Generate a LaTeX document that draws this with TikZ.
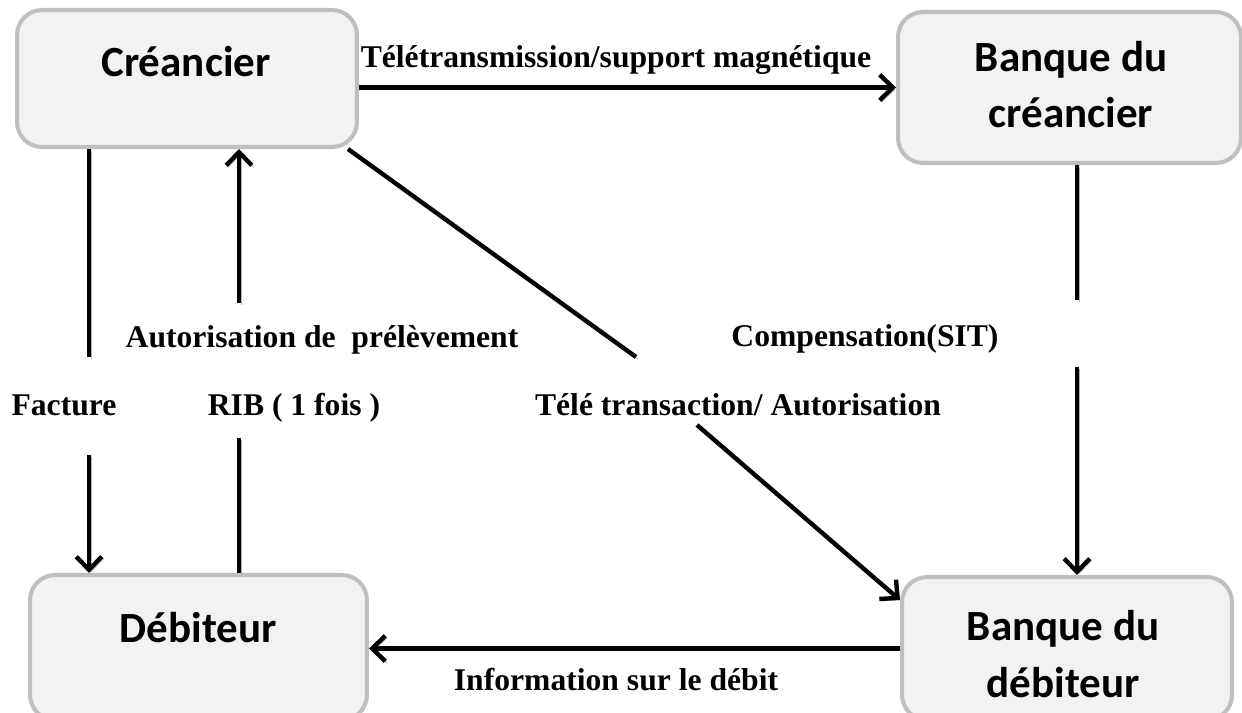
\documentclass[tikz,border=0pt]{standalone}
\usepackage{fontspec}
\setmainfont{Liberation Serif}
\newfontfamily\boxfont{Carlito}
\usetikzlibrary{arrows.meta}

\begin{document}
\begin{tikzpicture}[x=0.02cm,y=-0.02cm]
    \tikzstyle{box}=[draw=gray!50,fill=gray!10,line width=2.3pt,rounded corners=0.5cm,inner sep=0pt]
    \tikzstyle{title}=[anchor=base,inner sep=0pt,font=\boxfont\bfseries\fontsize{24.5}{30}\selectfont]
    \tikzstyle{lbl}=[anchor=base,inner sep=0pt,font=\bfseries\fontsize{18}{21}\selectfont]
    \tikzstyle{edge}=[draw,line width=2.5pt,preaction={draw=gray!60,transform canvas={shift={(1.1pt,-1.1pt)}}}]
    \tikzstyle{arrow}=[edge,-{Straight Barb[length=7.5pt,width=14.5pt]}]

    \useasboundingbox (0,0) rectangle (1242,713);

    \node[box,minimum width=6.8cm,minimum height=2.74cm] (cre) at (187,78.5) {};
    \node[box,minimum width=6.86cm,minimum height=3.02cm] (bcr) at (1069.5,87.5) {};
    \node[box,minimum width=6.74cm,minimum height=2.9cm] (deb) at (198.5,647.5) {};
    \node[box,minimum width=6.6cm,minimum height=2.86cm] (bdb) at (1067,648.5) {};

    \node[title] (creT) at (186,77) {Créancier};
    \node[title] (bcrT1) at (1071,72) {Banque du};
    \node[title] (bcrT2) at (1071,128) {créancier};
    \node[title] (debT) at (198,642) {Débiteur};
    \node[title] (bdbT1) at (1063,640) {Banque du};
    \node[title] (bdbT2) at (1063,697) {débiteur};

    \node[lbl] (tel) at (616,68) {Télétransmission/support magnétique};
    \node[lbl] (aut) at (322,347) {Autorisation de~ prélèvement};
    \node[lbl] (fac) at (64,415) {Facture};
    \node[lbl] (rib) at (294,415) {RIB ( 1 fois )};
    \node[lbl] (tt) at (738,415) {Télé transaction/ Autorisation};
    \node[lbl] (comp) at (865,346) {Compensation(SIT)};
    \node[lbl] (info) at (616,690) {Information sur le débit};

    \coordinate (f1) at (89,357);
    \coordinate (f2) at (89,455);
    \coordinate (r1) at (239,303);
    \coordinate (r2) at (239,438);
    \coordinate (t1) at (636,357);
    \coordinate (t2) at (697,425);
    \coordinate (c1) at (1077,300);
    \coordinate (c2) at (1077,367);

    \path[arrow] (cre.east |- bcr.west) -- (bcr.west);
    \path[edge] (cre.south -| f1) -- (f1);
    \path[arrow] (f2) -- (f2 |- deb.north);
    \path[edge] (deb.north -| r2) -- (r2);
    \path[arrow] (r1) -- (r1 |- cre.south);
    \path[edge] ([xshift=-0.22cm]cre.south east) -- (t1);
    \path[arrow] (t2) -- ([yshift=0.97cm]bdb.west);
    \path[edge] (bcr.south -| c1) -- (c1);
    \path[arrow] (c2) -- (c2 |- bdb.north);
    \path[arrow] (bdb.west) -- (bdb.west -| deb.east);
\end{tikzpicture}
\end{document}
